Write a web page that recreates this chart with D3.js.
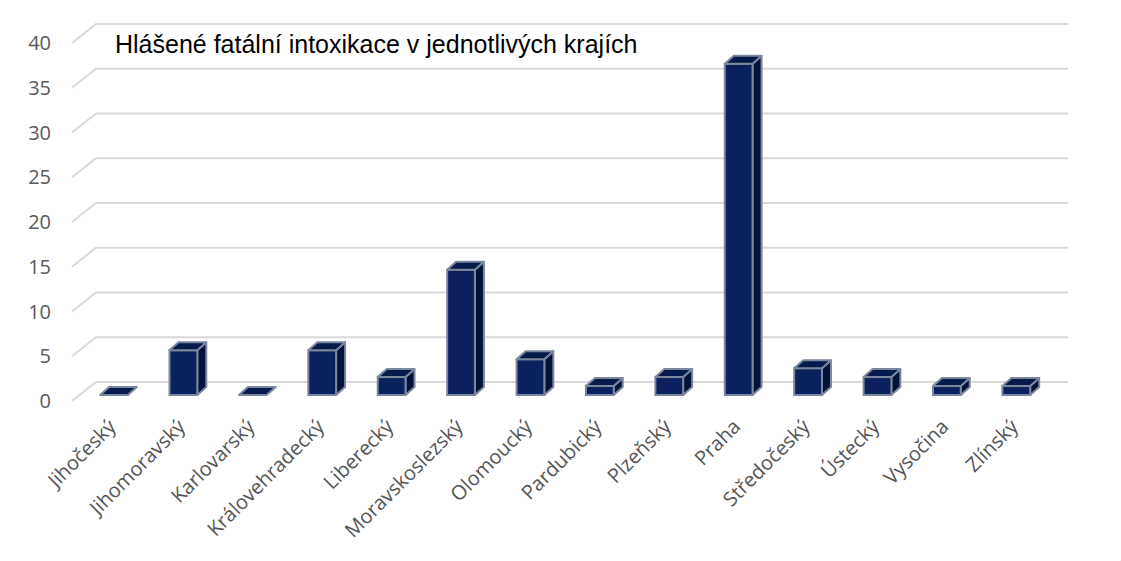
<!DOCTYPE html>
<html><head><meta charset="utf-8">
<script src="https://cdn.jsdelivr.net/npm/d3@7"></script>
<style>html,body{margin:0;padding:0;background:#fff;}svg{display:block;}</style>
</head><body>
<script>
const categories = ["Jihočeský","Jihomoravský","Karlovarský","Královehradecký","Liberecký","Moravskoslezský","Olomoucký","Pardubický","Plzeňský","Praha","Středočeský","Ústecký","Vysočina","Zlínský"];
const values = [0,5,0,5,2,14,4,1,2,37,3,2,1,1];
const yTicks = [0,5,10,15,20,25,30,35,40];
const title = "Hlášené fatální intoxikace v jednotlivých krajích";

const W = 1121, H = 561;
const svg = d3.select("body").append("svg").attr("width", W).attr("height", H);

const x = d3.scaleBand().domain(categories).range([79.3, 1051]).paddingInner(0.6).paddingOuter(0.3);
const yFront = d3.scaleLinear().domain([0,40]).range([395, 37]);
const yBack = d3.scaleLinear().domain([0,40]).range([382, 24]);
const yLabel = d3.scaleLinear().domain([0,40]).range([401, 43]);
const DX = 9, DY = -8;
const wallL = 72, wallBack = 96, wallR = 1068;

// faint frame corners (mostly outside the view)
svg.append("rect").attr("x", -30).attr("y", -14).attr("width", 1152).attr("height", 586)
  .attr("rx", 16).attr("fill", "none").attr("stroke", "#b0b0b0").attr("stroke-width", 1.2);

// gridlines
const grid = svg.append("g");
yTicks.forEach(t => {
  grid.append("polyline")
    .attr("points", `${wallL},${yLabel(t)} ${wallBack},${yBack(t)} ${wallR},${yBack(t)}`)
    .attr("fill", "none").attr("stroke", "#d9d9d9").attr("stroke-width", 2);
});

// y labels
svg.append("g").selectAll("text").data(yTicks).join("text")
  .attr("x", 51).attr("y", d => yLabel(d)).attr("dy", "0.36em")
  .attr("text-anchor", "end").attr("fill", "#595959")
  .style("font-family", "'Open Sans', sans-serif").style("font-size", "20px")
  .text(d => d);

// bars
const bars = svg.append("g").selectAll("g").data(categories.map((c,i)=>({c, v: values[i]}))).join("g");
const stroke = "#7b879c";
bars.each(function(d){
  const g = d3.select(this);
  const x0 = x(d.c), x1 = x0 + x.bandwidth();
  const yt = yFront(d.v), yb = yFront(0);
  if (d.v > 0) {
    g.append("polygon").attr("points", `${x1},${yt} ${x1+DX},${yt+DY} ${x1+DX},${yb+DY} ${x1},${yb}`)
      .attr("fill", "#04123a").attr("stroke", stroke).attr("stroke-width", 2).attr("stroke-linejoin","round");
    g.append("rect").attr("x", x0).attr("y", yt).attr("width", x1-x0).attr("height", yb-yt)
      .attr("fill", "#0a215e").attr("stroke", stroke).attr("stroke-width", 2);
  }
  g.append("polygon").attr("points", `${x0},${yt} ${x1},${yt} ${x1+DX},${yt+DY} ${x0+DX},${yt+DY}`)
    .attr("fill", "#071a4c").attr("stroke", stroke).attr("stroke-width", 2).attr("stroke-linejoin","round");
});

// x labels
svg.append("g").selectAll("text").data(categories).join("text")
  .attr("transform", d => `translate(${x(d)+x.bandwidth()/2+3},${428}) rotate(-45)`)
  .attr("text-anchor", "end").attr("fill", "#555555")
  .style("font-family", "'Open Sans', sans-serif").style("font-size", "20px")
  .text(d => d);

// title
svg.append("text").attr("x", 115).attr("y", 53).attr("fill", "#000")
  .style("font-family", "'Liberation Sans', Arial, sans-serif").style("font-size", "25px")
  .text(title);
</script>
</body></html>
